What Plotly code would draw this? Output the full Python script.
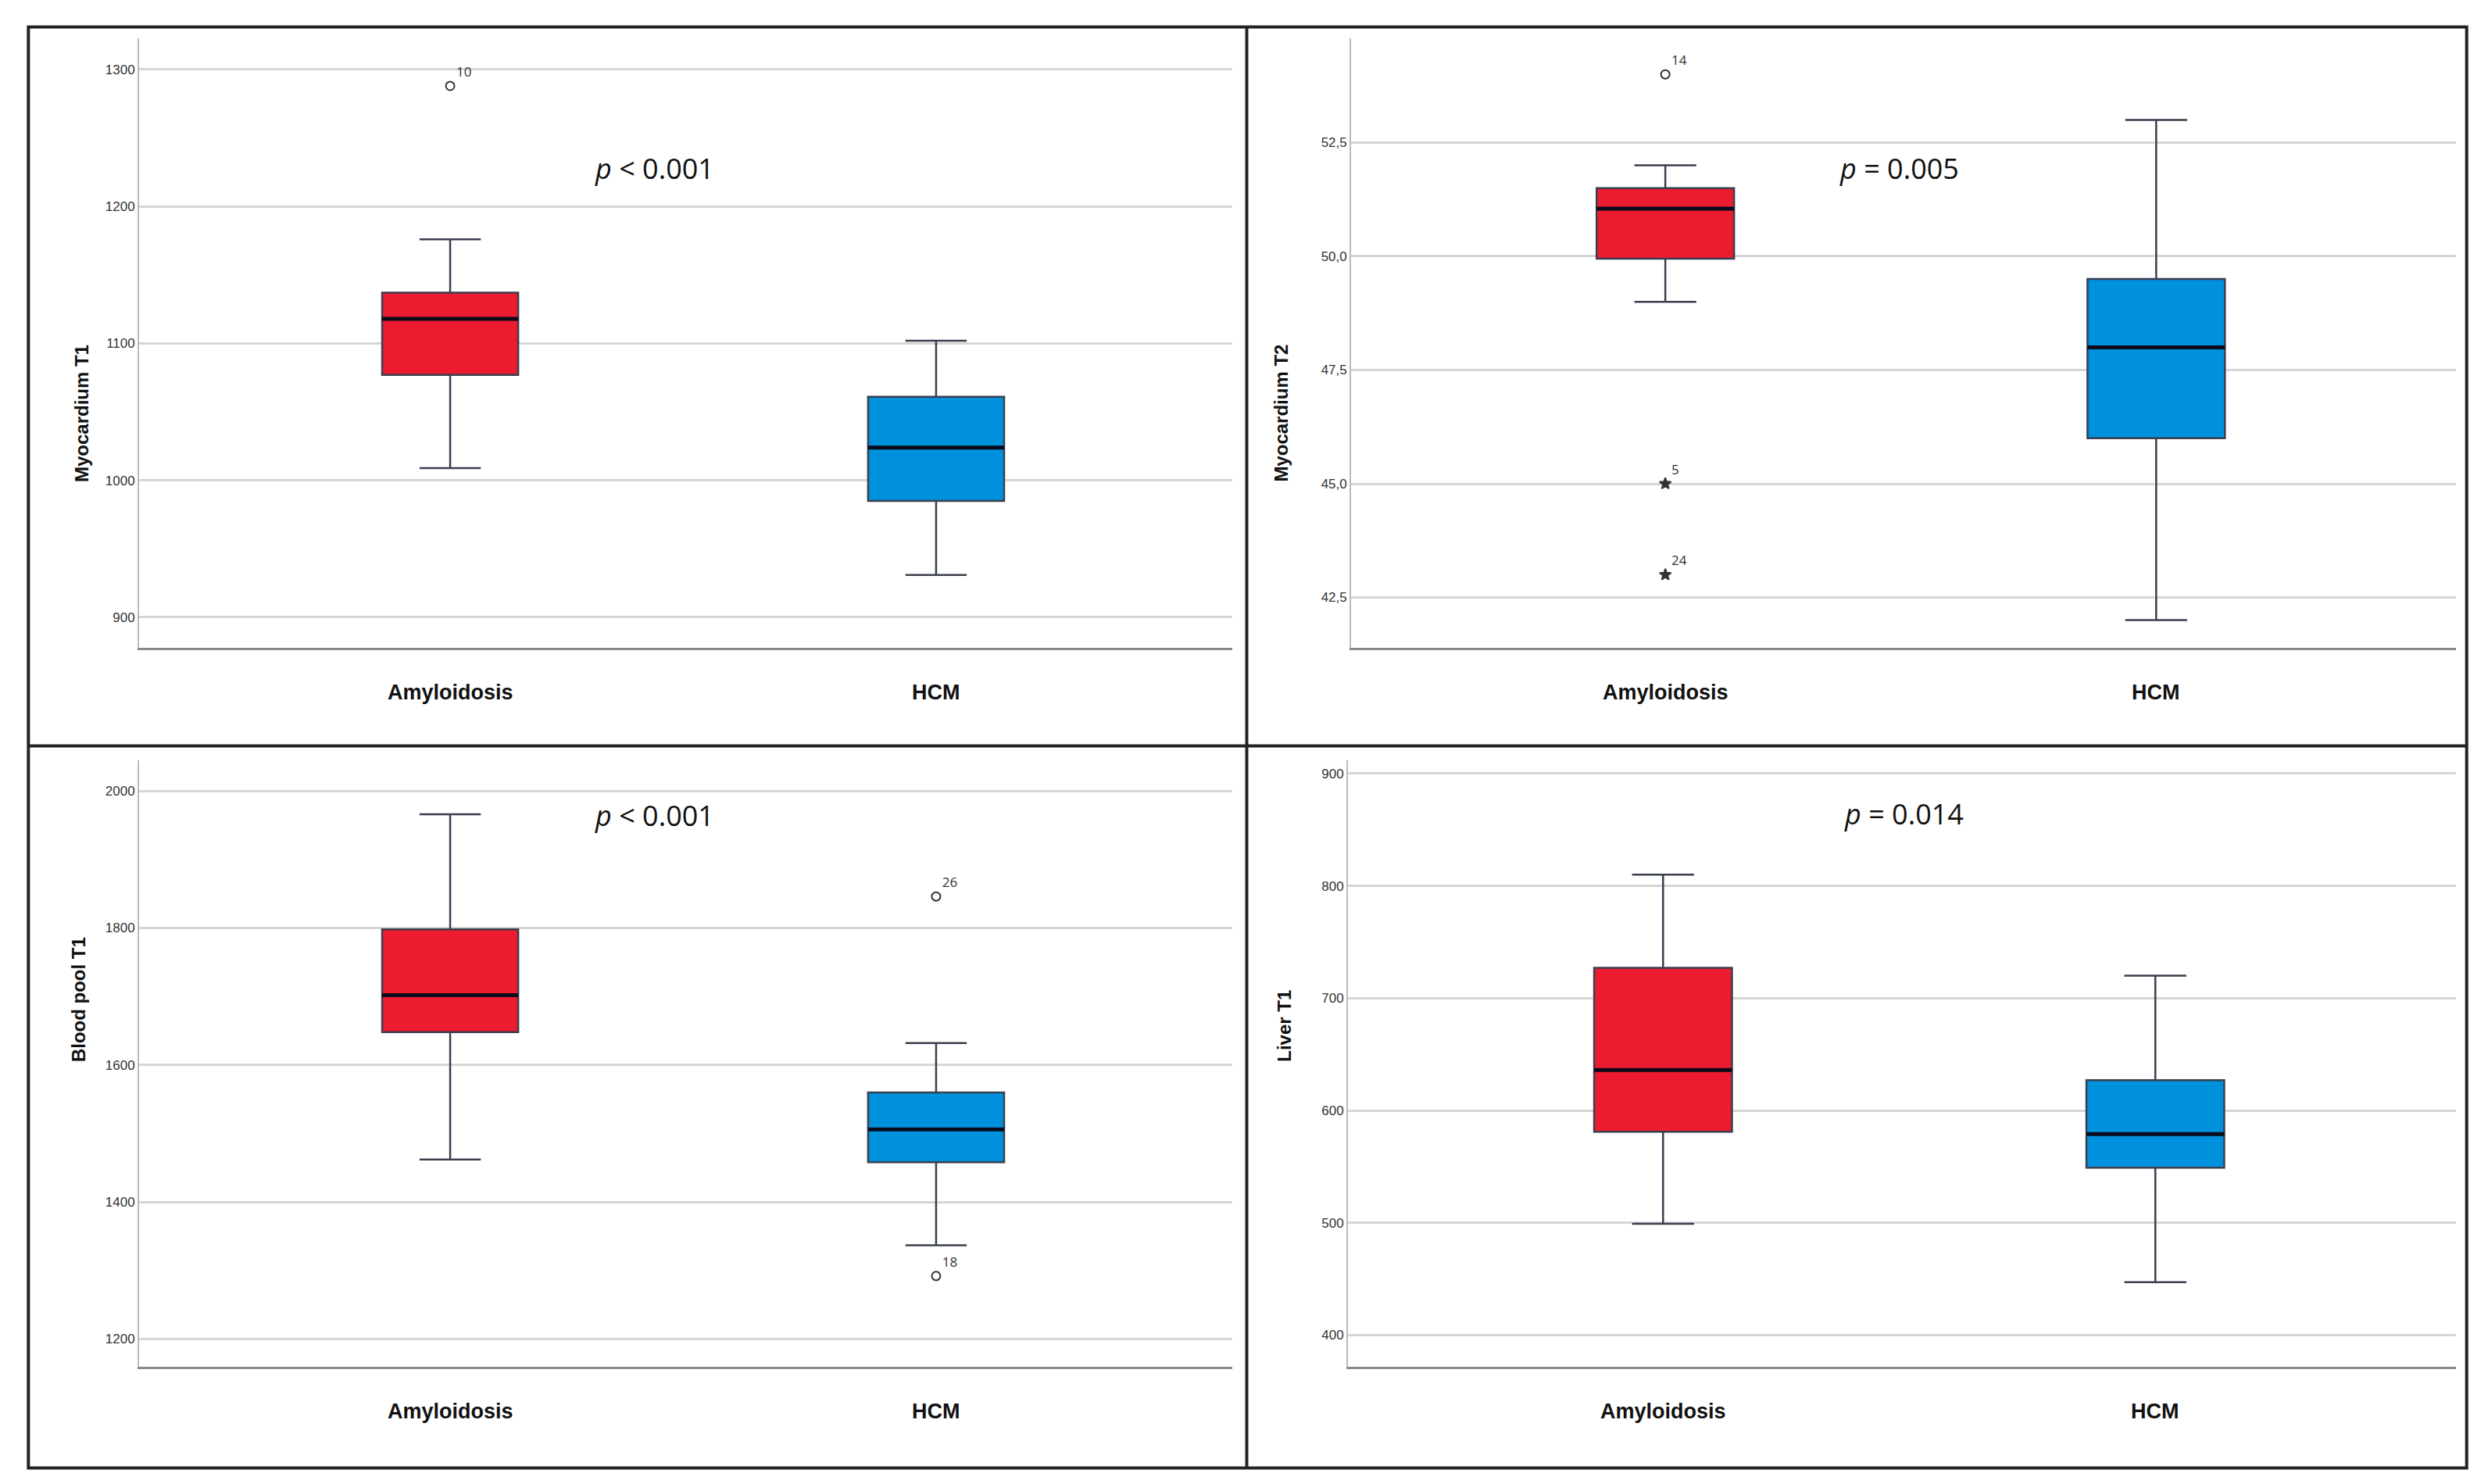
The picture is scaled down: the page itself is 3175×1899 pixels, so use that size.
import plotly.graph_objects as go

groups = ["Amyloidosis", "HCM"]
titles = ["Myocardium T1", "Myocardium T2", "Blood pool T1", "Liver T1"]
pvals = ["<i>p</i> < 0.001", "<i>p</i> = 0.005", "<i>p</i> < 0.001", "<i>p</i> = 0.014"]

# [lowerfence, q1, median, q3, upperfence] per group
stats = [
    [[1009, 1077, 1118, 1137, 1176], [931, 985, 1024, 1061, 1102]],
    [[49.0, 49.95, 51.05, 51.5, 52.0], [42.0, 46.0, 48.0, 49.5, 53.0]],
    [[1462, 1648, 1702, 1798, 1966], [1337, 1458, 1506, 1560, 1632]],
    [[499, 581, 636, 727, 810], [447, 549, 579, 627, 720]],
]
# outliers: (panel, group index, value, label, symbol)
outliers = [
    (0, 0, 1288, "10", "circle-open"),
    (1, 0, 54.0, "14", "circle-open"),
    (1, 0, 45.0, "5", "star"),
    (1, 0, 43.0, "24", "star"),
    (2, 1, 1846, "26", "circle-open"),
    (2, 1, 1292, "18", "circle-open"),
]
yranges = [[878, 1323], [41.4, 54.8], [1160, 2045], [372, 912]]
ytickvals = [[900, 1000, 1100, 1200, 1300], [42.5, 45.0, 47.5, 50.0, 52.5],
             [1200, 1400, 1600, 1800, 2000], [400, 500, 600, 700, 800, 900]]
yticktext = [[str(v) for v in ytickvals[0]], ["42,5", "45,0", "47,5", "50,0", "52,5"],
             [str(v) for v in ytickvals[2]], [str(v) for v in ytickvals[3]]]

colors = ["#ED1B2F", "#0091DC"]

W, H = 1568, 935
def fx(p): return p / W
def fy(p): return 1 - p / H

xdoms = [[fx(84), fx(775)], [fx(850), fx(1548)], [fx(84), fx(775)], [fx(848), fx(1548)]]
ydoms = [[fy(404), fy(20)], [fy(404), fy(20)], [fy(857), fy(475)], [fy(857), fy(475)]]
ylab_x = [fx(40), fx(806), fx(38), fx(808)]
ptext_x = [fx(371), fx(1235), fx(371), fx(1238)]
ptext_y = [fy(89), fy(89), fy(510), fy(509)]

fig = go.Figure()
annotations = []
for i in range(4):
    ax = "" if i == 0 else str(i + 1)
    for g in range(2):
        lo, q1, med, q3, hi = stats[i][g]
        fig.add_trace(go.Box(
            x=[g], lowerfence=[lo], q1=[q1], median=[med], q3=[q3], upperfence=[hi],
            fillcolor=colors[g], line=dict(color="#3a3f4f", width=2.5),
            whiskerwidth=0.45, width=0.28, boxpoints=False, showlegend=False,
            xaxis="x" + ax, yaxis="y" + ax, hoverinfo="skip"))
        fig.add_trace(go.Scatter(
            x=[g - 0.14, g + 0.14], y=[med, med], mode="lines",
            line=dict(color="#0a0a1a", width=5), showlegend=False,
            xaxis="x" + ax, yaxis="y" + ax, hoverinfo="skip"))
    for (pi, gi, v, lab, sym) in outliers:
        if pi != i:
            continue
        fig.add_trace(go.Scatter(
            x=[gi], y=[v], mode="markers+text", text=[lab],
            textposition="top right", textfont=dict(size=17, color="#333"),
            marker=dict(symbol=sym, size=11, color="#333", line=dict(width=2, color="#333")),
            showlegend=False, xaxis="x" + ax, yaxis="y" + ax, hoverinfo="skip"))
    fig.update_layout(**{
        "xaxis" + ax: dict(domain=xdoms[i], range=[-0.64, 1.61], showgrid=False,
                           showticklabels=False, zeroline=False, showline=True,
                           linecolor="#888", linewidth=3, anchor="y" + ax, fixedrange=True),
        "yaxis" + ax: dict(domain=ydoms[i], range=yranges[i], tickvals=ytickvals[i],
                           ticktext=yticktext[i], showgrid=True, gridcolor="#d6d6d6",
                           gridwidth=2.5, zeroline=False, showline=True, linecolor="#bbb",
                           linewidth=2, ticks="", tickfont=dict(size=17, color="#333", family="Liberation Sans Narrow, Arial Narrow, sans-serif"),
                           anchor="x" + ax),
    })
    annotations.append(dict(text="<b>" + titles[i] + "</b>", x=ylab_x[i],
                            y=(ydoms[i][0] + ydoms[i][1]) / 2, xref="paper", yref="paper",
                            textangle=-90, showarrow=False, font=dict(size=24, color="#111", family="Arial, sans-serif")))
    annotations.append(dict(text=pvals[i], x=ptext_x[i], y=ptext_y[i], xref="paper", yref="paper",
                            showarrow=False, font=dict(size=36, color="#111", family="Open Sans, sans-serif")))
    for g in range(2):
        annotations.append(dict(text="<b>" + groups[g] + "</b>", x=g, y=ydoms[i][0] - 0.03,
                                xref="x" + ax, yref="paper", showarrow=False, yanchor="middle",
                                font=dict(size=27, color="#111", family="Liberation Sans Narrow, Arial Narrow, sans-serif")))

shapes = []
bx = [fx(14), fx(784), fx(1555)]
by = [fy(13), fy(466), fy(921)]
line = dict(color="#222", width=4)
shapes.append(dict(type="rect", xref="paper", yref="paper", x0=bx[0], x1=bx[2], y0=by[2], y1=by[0], line=line))
shapes.append(dict(type="line", xref="paper", yref="paper", x0=bx[1], x1=bx[1], y0=by[2], y1=by[0], line=line))
shapes.append(dict(type="line", xref="paper", yref="paper", x0=bx[0], x1=bx[2], y0=by[1], y1=by[1], line=line))

fig.update_layout(width=3175, height=1899, margin=dict(l=0, r=0, t=0, b=0),
                  paper_bgcolor="white", plot_bgcolor="white",
                  annotations=annotations, shapes=shapes)
fig.write_html("out.html")
